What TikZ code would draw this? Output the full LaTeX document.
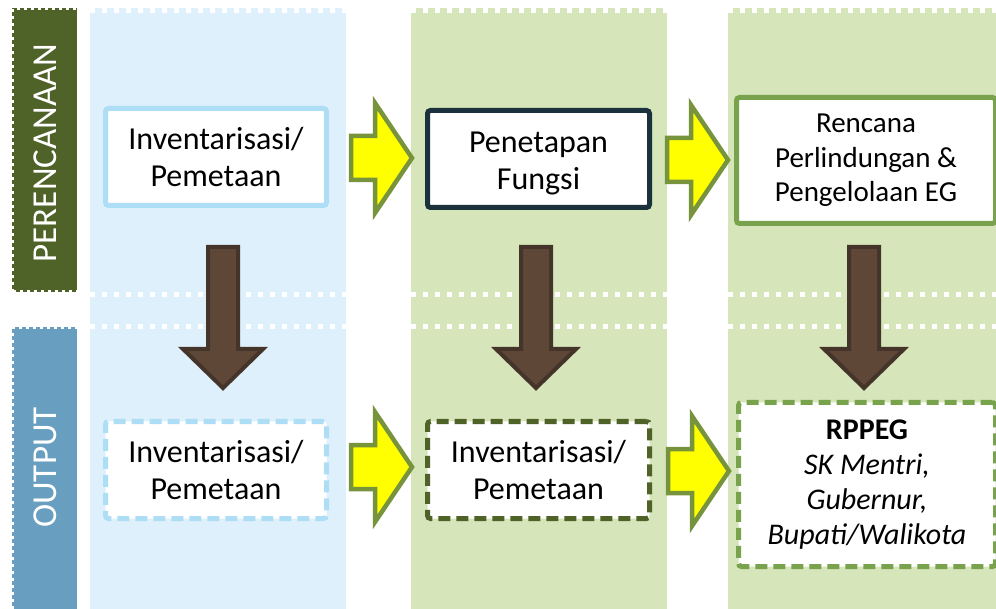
\documentclass[tikz,border=0pt]{standalone}
\usepackage{fontspec}
\setmainfont{Carlito}
\usetikzlibrary{calc}
\definecolor{colblue}{HTML}{DEF0FB}
\definecolor{colgreen}{HTML}{D7E5BA}
\definecolor{planbg}{HTML}{4F6228}
\definecolor{outbg}{HTML}{689FC0}
\definecolor{lblue}{HTML}{ADDEF6}
\definecolor{darkteal}{HTML}{1B313B}
\definecolor{midgreen}{HTML}{78A24B}
\definecolor{olivedk}{HTML}{4F6228}
\definecolor{arrowedge}{HTML}{77933C}
\definecolor{yellowfill}{HTML}{FFFF00}
\definecolor{brownfill}{HTML}{5E4737}
\definecolor{brownedge}{HTML}{45342A}
\begin{document}
\begin{tikzpicture}[x=1pt,y=-1pt,
  box/.style={draw, line width=5pt, fill=white, rounded corners=3pt, align=center,
    inner sep=0pt, font=\fontsize{32}{37}\selectfont},
  smallbox/.style={box, font=\fontsize{29}{34.5}\selectfont},
  outbox/.style={box, font=\fontsize{30}{35}\selectfont},
  dashbox/.style={dash pattern=on 12pt off 6pt},
  whitedots/.style={draw=white, line width=5pt, dash pattern=on 5pt off 7pt},
  edgedots/.style={draw=white, line width=2.5pt, dash pattern=on 3pt off 4pt},
  sidelabel/.style={rotate=90, text=white, inner sep=0pt, font=\fontsize{35}{40}\selectfont},
  yarrow/.style={draw=arrowedge, fill=yellowfill, line width=4.5pt, line join=miter},
  barrow/.style={draw=brownedge, fill=brownfill, line width=4pt, line join=miter}]
\useasboundingbox (0,0) rectangle (996,609);
\clip (0,0) rectangle (996,609);
% columns
\fill[colblue] (90,8) rectangle (346,609);
\fill[colgreen] (411,8) rectangle (667,609);
\fill[colgreen] (728,8) rectangle (1000,609);
\foreach \a/\b in {90/346,411/667,728/1000}{
  \draw[whitedots] (\a,10.5) -- (\b,10.5);
  \draw[whitedots] (\a,295) -- (\b,295);
  \draw[whitedots] (\a,327) -- (\b,327);
}
% side labels
\fill[planbg] (12,8) rectangle (77,292);
\draw[edgedots] (13,292) -- (13,9) -- (77,9);
\draw[edgedots] (13,291) -- (77,291);
\node[sidelabel] (plan) at (45,153) {PERENCANAAN};
\fill[outbg] (12,327) rectangle (77,609);
\draw[edgedots] (13,609) -- (13,328) -- (77,328);
\node[sidelabel] (outp) at (45,467.5) {OUTPUT};
% boxes
\node[box, draw=lblue, minimum width=221pt, minimum height=97pt] (b1) at (216,157) {Inventarisasi/\\Pemetaan};
\node[box, draw=darkteal, minimum width=222pt, minimum height=97pt] (b2) at (538.5,159) {\rule{0pt}{30pt}Penetapan\\Fungsi};
\node[smallbox, draw=midgreen, minimum width=259pt, minimum height=126pt] (b3) at (866,160.5) {Rencana\\Perlindungan \&\\Pengelolaan EG};
\node[box, dashbox, draw=lblue, minimum width=221pt, minimum height=97pt] (b4) at (216,470) {Inventarisasi/\\Pemetaan};
\node[box, dashbox, draw=olivedk, minimum width=222pt, minimum height=97pt] (b5) at (538.5,470) {Inventarisasi/\\Pemetaan};
\node[outbox, dashbox, draw=midgreen, minimum width=257pt, minimum height=164pt] (b6) at (867,484.5) {\textbf{RPPEG}\\\textit{SK Mentri,}\\\textit{Gubernur,}\\\textit{Bupati/Walikota}};
% yellow block arrows
\coordinate (ya1) at (351,158);
\coordinate (ya2) at (667,160);
\coordinate (ya3) at (351,467);
\coordinate (ya4) at (668,471);
\foreach \c in {ya1,ya2,ya3,ya4}{
  \draw[yarrow] (\c) -- ++(0,-22) -- ++(24,0) -- ++(0,-33) -- ++(37,55) -- ++(-37,55) -- ++(0,-33) -- ++(-24,0) -- cycle;
}
% brown down arrows
\coordinate (da1) at (223,247);
\coordinate (da2) at (536,247);
\coordinate (da3) at (864,247);
\foreach \c in {da1,da2,da3}{
  \draw[barrow] (\c) ++(-15,0) -- ++(30,0) -- ++(0,102) -- ++(25,0) -- ++(-40,39) -- ++(-40,-39) -- ++(25,0) -- cycle;
}
\end{tikzpicture}
\end{document}
